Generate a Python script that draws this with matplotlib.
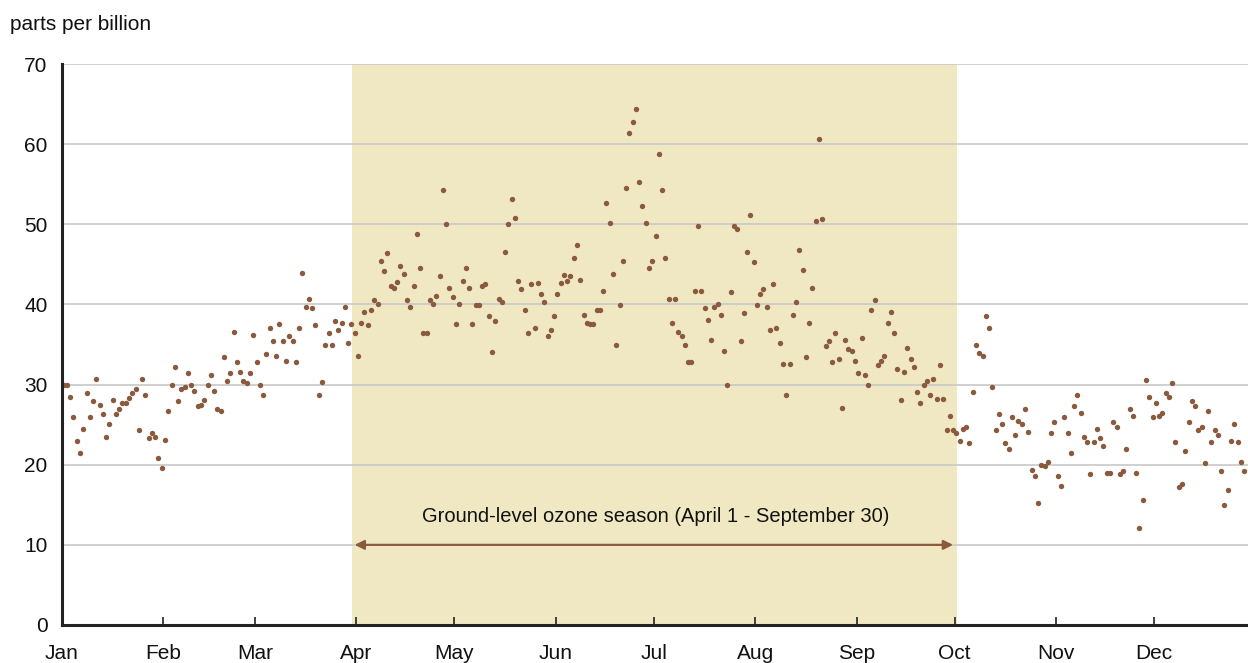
import matplotlib
matplotlib.use("Agg")
import matplotlib.pyplot as plt
import numpy as np

plt.rcParams['font.family'] = ['Liberation Sans', 'DejaVu Sans']

# daily ozone concentration (ppb), Jan 1 onward (visible days)
ozone = [
    30.0, 30.0, 28.5, 25.9, 22.9, 21.5, 24.5, 29.0, 25.9, 27.9,
    30.7, 27.5, 26.3, 23.5, 25.1, 28.1, 26.3, 26.9, 27.7, 27.7,
    28.3, 28.9, 29.4, 24.3, 30.7, 28.7, 23.3, 23.9, 23.5, 20.8,
    19.6, 23.1, 26.7, 30.0, 32.2, 27.9, 29.4, 29.7, 31.4, 29.9,
    29.2, 27.3, 27.5, 28.1, 29.9, 31.2, 29.2, 26.9, 26.7, 33.4,
    30.4, 31.4, 36.6, 32.8, 31.6, 30.4, 30.2, 31.4, 36.2, 32.8,
    30.0, 28.7, 33.8, 37.1, 35.4, 33.6, 37.6, 35.4, 33.0, 36.0,
    35.4, 32.8, 37.1, 43.9, 39.7, 40.7, 39.5, 37.4, 28.7, 30.3,
    35.0, 36.4, 35.0, 37.9, 36.8, 37.7, 39.7, 35.2, 37.5, 36.4,
    33.6, 37.7, 39.1, 37.4, 39.3, 40.5, 40.1, 45.4, 44.2, 46.4,
    42.3, 42.1, 42.8, 44.8, 43.8, 40.5, 39.7, 42.3, 48.8, 44.6,
    36.4, 36.4, 40.5, 40.1, 41.1, 43.5, 54.3, 50.0, 42.1, 40.9,
    37.5, 40.1, 42.9, 44.6, 42.1, 37.5, 39.9, 39.9, 42.3, 42.5,
    38.5, 34.1, 37.9, 40.7, 40.3, 46.6, 50.0, 53.1, 50.8, 42.9,
    41.9, 39.3, 36.4, 42.5, 37.1, 42.7, 41.3, 40.3, 36.1, 36.8,
    38.5, 41.3, 42.7, 43.7, 42.9, 43.5, 45.8, 47.4, 43.1, 38.7,
    37.7, 37.5, 37.5, 39.3, 39.3, 41.7, 52.7, 50.2, 43.8, 34.9,
    39.9, 45.4, 54.5, 61.4, 62.8, 64.4, 55.3, 52.3, 50.2, 44.6,
    45.4, 48.6, 58.8, 54.3, 45.8, 40.7, 37.7, 40.7, 36.6, 36.1,
    35.0, 32.8, 32.8, 41.7, 49.8, 41.7, 39.5, 38.1, 35.6, 39.7,
    40.1, 38.7, 34.2, 29.9, 41.5, 49.8, 49.4, 35.4, 38.9, 46.6,
    51.2, 45.3, 39.9, 41.3, 41.9, 39.7, 36.8, 42.5, 37.1, 35.2,
    32.6, 28.7, 32.6, 38.7, 40.3, 46.8, 44.3, 33.4, 37.7, 42.1,
    50.4, 60.6, 50.6, 34.8, 35.4, 32.8, 36.4, 33.2, 27.1, 35.6,
    34.4, 34.2, 33.0, 31.4, 35.8, 31.2, 30.0, 39.3, 40.5, 32.4,
    33.0, 33.6, 37.7, 39.1, 36.4, 32.0, 28.1, 31.6, 34.6, 33.2,
    32.2, 29.1, 27.7, 30.0, 30.4, 28.7, 30.7, 28.2, 32.4, 28.2,
    24.3, 26.1, 24.3, 23.9, 22.9, 24.5, 24.7, 22.7, 29.1, 35.0,
    34.0, 33.6, 38.6, 37.1, 29.7, 24.3, 26.3, 25.1, 22.7, 21.9,
    25.9, 23.7, 25.5, 25.1, 26.9, 24.1, 19.4, 18.6, 15.2, 20.0,
    19.8, 20.4, 23.9, 25.3, 18.6, 17.4, 25.9, 23.9, 21.5, 27.3,
    28.7, 26.5, 23.5, 22.8, 18.8, 22.8, 24.5, 23.3, 22.3, 19.0,
    19.0, 25.3, 24.7, 18.8, 19.2, 21.9, 26.9, 26.1, 19.0, 12.1,
    15.6, 30.6, 28.5, 25.9, 27.7, 26.1, 26.5, 28.9, 28.5, 30.2,
    22.8, 17.2, 17.6, 21.7, 25.3, 27.9, 27.3, 24.3, 24.7, 20.2,
    26.7, 22.8, 24.3, 23.7, 19.2, 15.0, 16.8, 22.9, 25.1, 22.8,
    20.4, 19.2,
]

months = ["Jan", "Feb", "Mar", "Apr", "May", "Jun",
          "Jul", "Aug", "Sep", "Oct", "Nov", "Dec"]
month_days = [31, 28, 31, 30, 31, 30, 31, 31, 30, 31, 30, 31]
season_label = "Ground-level ozone season (April 1 - September 30)"
y_label = "parts per billion"

month_starts = np.concatenate([[0], np.cumsum(month_days)[:-1]]) - 0.5
days = np.arange(len(ozone))

W, H = 1248, 663
fig = plt.figure(figsize=(W / 100, H / 100), dpi=100)
px_per_day = 3.27
left_px, top_px, bottom_px = 62, 64, 625
ax = fig.add_axes([left_px / W, (H - bottom_px) / H,
                   365 * px_per_day / W, (bottom_px - top_px) / H])

brown = "#8b5a3e"
shade = "#f0e8c2"

ax.set_xlim(-0.5, 364.5)
ax.set_ylim(0, 70)

# season shading
ax.axvspan(month_starts[3] - 1.2, month_starts[9] + 0.6, color=shade,
           zorder=0, lw=0)

# gridlines
for yv in range(10, 71, 10):
    ax.axhline(yv, color="#c8c8c8", lw=1.2, zorder=1)

ax.scatter(days, ozone, s=15, color=brown, zorder=3, linewidths=0,
           clip_on=False)

# season arrow + label
ax.annotate("", xy=(month_starts[3] - 0.5, 10), xytext=(month_starts[9] - 0.5, 10),
            arrowprops=dict(arrowstyle="<|-|>", color=brown, lw=1.6,
                            mutation_scale=14, shrinkA=0, shrinkB=0), zorder=4)
ax.text((month_starts[3] + month_starts[9]) / 2, 13.6, season_label,
        ha="center", va="center", fontsize=14.5, color="#111111")

# axes styling
for s in ["top", "right"]:
    ax.spines[s].set_visible(False)
ax.spines["left"].set_linewidth(2.2)
ax.spines["bottom"].set_linewidth(2.2)
ax.spines["left"].set_color("#222222")
ax.spines["bottom"].set_color("#222222")
ax.spines["left"].set_zorder(5)
ax.spines["bottom"].set_zorder(5)

ax.set_yticks(range(0, 71, 10))
ax.set_yticklabels([str(v) for v in range(0, 71, 10)], fontsize=15)
ax.tick_params(axis="y", length=0, pad=10.5, labelcolor="#111111")

ax.set_xticks(month_starts)
ax.set_xticklabels(months, fontsize=15)
ax.tick_params(axis="x", direction="in", length=6, width=1.2, pad=13.5,
               colors="#222222", labelcolor="#111111")

fig.text(10 / W, 1 - 24 / H, y_label, fontsize=15, ha="left", va="center",
         color="#111111")

fig.savefig("out.png", dpi=100)
